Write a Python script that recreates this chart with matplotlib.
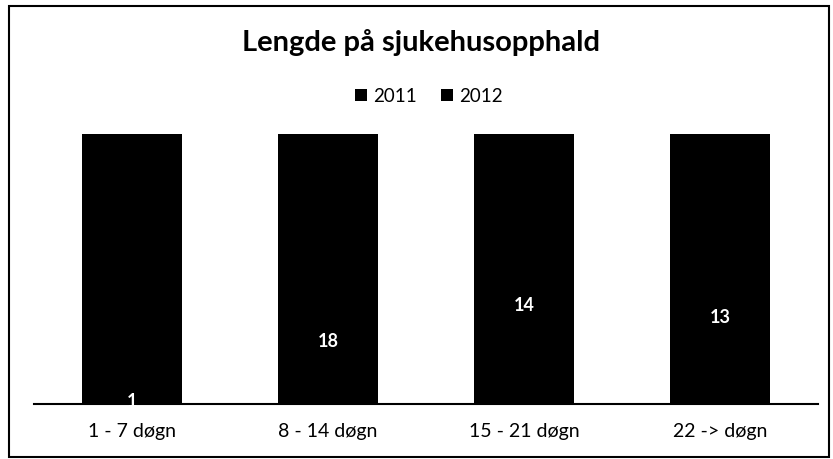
import numpy as np
import matplotlib.pyplot as plt
from matplotlib.patches import Rectangle

plt.rcParams['font.family'] = ['Lato', 'DejaVu Sans']

# data (counts, shown as 100% stacked bars)
categories = ['1 - 7 døgn', '8 - 14 døgn', '15 - 21 døgn', '22 -> døgn']
val_2011 = [1, 18, 14, 13]
val_2012 = [35, 20, 5, 7]
series_names = ['2011', '2012']

a = np.array(val_2011, dtype=float)
b = np.array(val_2012, dtype=float)
tot = a + b
share_2011 = a / tot
share_2012 = b / tot

fig = plt.figure(figsize=(8.33, 4.6), dpi=100)
ax = fig.add_axes([34/833, 55/460, 784/833, 270/460])

x = np.arange(len(categories))
bars1 = ax.bar(x, share_2011, width=0.51, color='black', label=series_names[0])
bars2 = ax.bar(x, share_2012, width=0.51, bottom=share_2011, color='black', label=series_names[1])

# data labels (white on black)
ax.bar_label(bars1, labels=[str(v) for v in val_2011], label_type='center',
             color='white', fontsize=13, fontweight='bold')

ax.set_xlim(-0.5, len(categories) - 0.5)
ax.set_ylim(0, 1)
ax.set_yticks([])
ax.set_xticks(x)
ax.set_xticklabels(categories, fontsize=14)
ax.tick_params(axis='x', length=0, pad=13)
for s in ['top', 'right', 'left']:
    ax.spines[s].set_visible(False)
ax.spines['bottom'].set_linewidth(1.5)

fig.text(0.505, 1 - 43/460, 'Lengde på sjukehusopphald', ha='center', va='center',
         fontsize=21, fontweight='bold')
fig.legend(loc='center', bbox_to_anchor=(0.515, 1 - 97/460), ncol=2, frameon=False,
           fontsize=13.5, handlelength=0.65, handleheight=0.65, handletextpad=0.3,
           columnspacing=1.3)

# outer chart border
fig.patches.append(Rectangle((9/833, 2/460), 820/833, 451/460, transform=fig.transFigure,
                             fill=False, edgecolor='black', linewidth=1.5))

fig.savefig('out.png', dpi=100)
